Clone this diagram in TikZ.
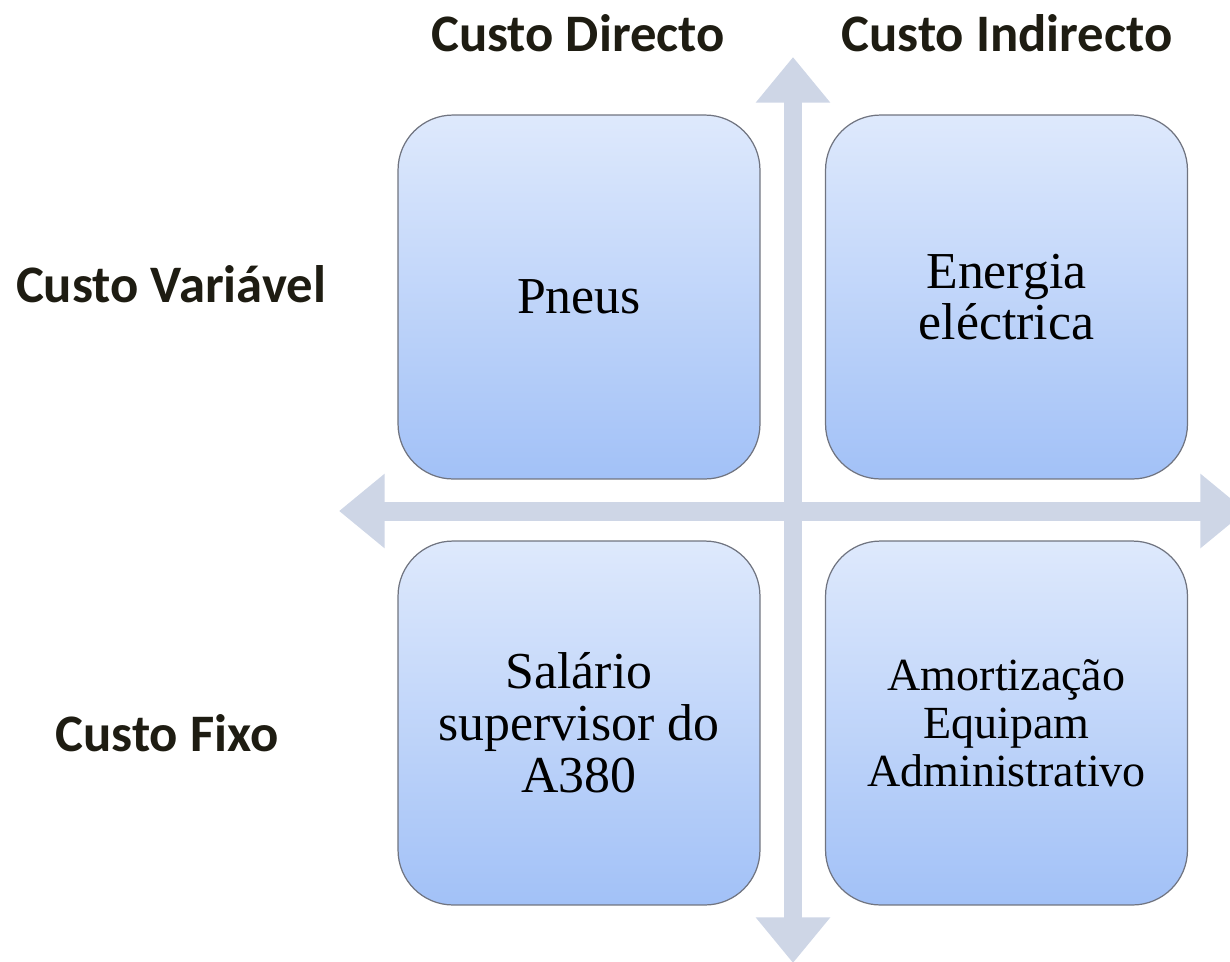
\documentclass[tikz,border=0pt]{standalone}
\usepackage{fontspec}
\setmainfont{Liberation Serif}
\newfontfamily\calibri{Carlito}
\usetikzlibrary{arrows.meta}
\definecolor{axisgrey}{RGB}{206,214,230}
\definecolor{boxtop}{RGB}{222,233,252}
\definecolor{boxbottom}{RGB}{162,193,247}
\definecolor{boxline}{RGB}{112,116,128}
\definecolor{labeltext}{RGB}{30,28,18}

\begin{document}
\begin{tikzpicture}[x=0.02cm, y=-0.02cm,
  cell/.style={draw=boxline, line width=0.7pt, rounded corners=1.1cm,
    minimum width=7.24cm, minimum height=7.28cm, inner sep=0pt,
    top color=boxtop, bottom color=boxbottom, align=center,
    font=\fontsize{29.5}{29.5}\selectfont},
  heading/.style={font=\calibri\bfseries\fontsize{30}{34}\selectfont, text=labeltext},
  axis/.style={axisgrey, line width=10.8pt,
    {Triangle[length=26pt,width=40.8pt]}-{Triangle[length=26pt,width=40.8pt]}}]
\useasboundingbox (0,0) rectangle (1230,961);

% the two axes
\coordinate (top) at (793,57);
\coordinate (bottom) at (793,963);
\coordinate (left) at (339,511);
\coordinate (right) at (1246,511);
\draw[axis] (top) -- (bottom);
\draw[axis] (left) -- (right);

% the four quadrants
\node[cell] (pneus) at (579,297) {Pneus};
\node[cell] (energia) at (1006.5,297) {Energia\\eléctrica};
\node[cell] (salario) at (579,723) {Salário\\supervisor do\\A380};
\node[cell, font=\fontsize{26.2}{27.2}\selectfont] (amort) at (1006.5,723)
  {Amortização\\Equipam\\Administrativo};

% headings
\node[heading] (directo) at (578,33) {Custo Directo};
\node[heading] (indirecto) at (1007,33) {Custo Indirecto};
\node[heading] (variavel) at (171,284) {Custo Variável};
\node[heading] (fixo) at (167,733) {Custo Fixo};
\end{tikzpicture}
\end{document}
